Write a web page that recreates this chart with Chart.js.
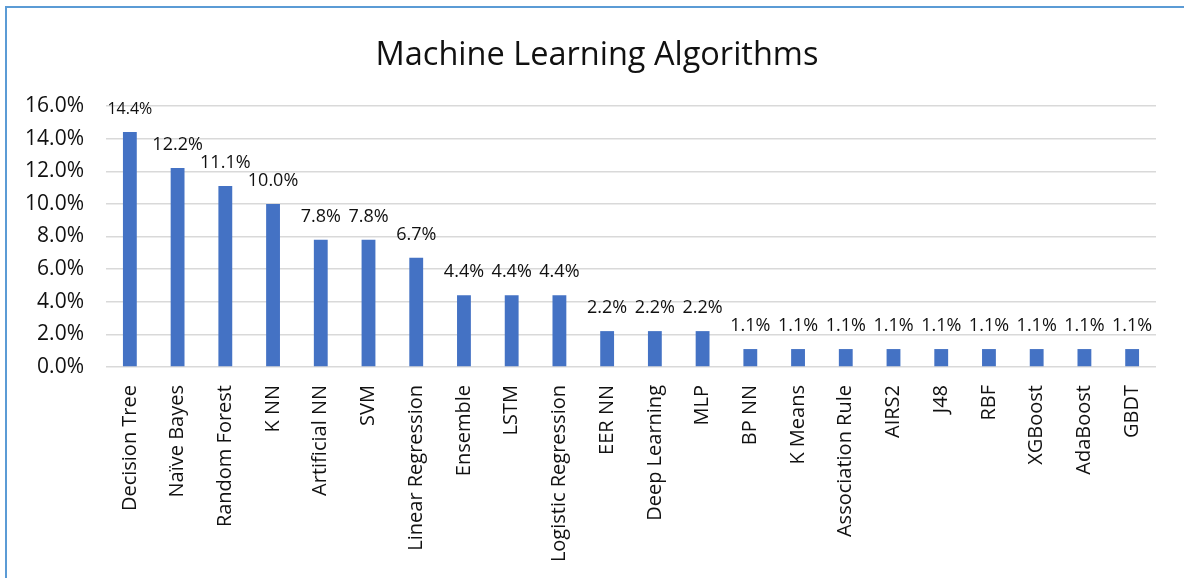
<!DOCTYPE html>
<html>
<head>
<meta charset="utf-8">
<script src="https://cdn.jsdelivr.net/npm/chart.js@4"></script>
<style>
    body { margin: 0; background: #fff; overflow: hidden; }
    #grafica { position: absolute; left: 0; top: 0; }
    #marco { position: absolute; left: 5px; top: 6px; width: 1200px; height: 600px; border: 2px solid #5B9BD5; pointer-events: none; }
</style>
</head>
<body>
<canvas id="grafica" width="1184" height="578"></canvas>
<div id="marco"></div>
<script>
const titulo = 'Machine Learning Algorithms';
const algoritmos = ['Decision Tree', 'Naïve Bayes', 'Random Forest', 'K NN', 'Artificial NN', 'SVM',
    'Linear Regression', 'Ensemble', 'LSTM', 'Logistic Regression', 'EER NN', 'Deep Learning', 'MLP',
    'BP NN', 'K Means', 'Association Rule', 'AIRS2', 'J48', 'RBF', 'XGBoost', 'AdaBoost', 'GBDT'];
const porcentajes = [14.4, 12.2, 11.1, 10.0, 7.8, 7.8, 6.7, 4.4, 4.4, 4.4, 2.2, 2.2, 2.2,
    1.1, 1.1, 1.1, 1.1, 1.1, 1.1, 1.1, 1.1, 1.1];
const ticksY = [0, 2, 4, 6, 8, 10, 12, 14, 16];

const fuente = "'Open Sans', 'Noto Sans', sans-serif";

// titulo centrado en el marco (no en el area del grafico)
const tituloMarco = {
    id: 'tituloMarco',
    afterDraw(chart) {
        const ctx = chart.ctx;
        ctx.save();
        ctx.fillStyle = '#111';
        ctx.font = '32.5px ' + fuente;
        ctx.textAlign = 'center';
        ctx.textBaseline = 'middle';
        ctx.fillText(titulo, 597, 56);
        ctx.restore();
    }
};

// etiquetas encima de cada barra
const etiquetasBarras = {
    id: 'etiquetasBarras',
    afterDatasetsDraw(chart) {
        const ctx = chart.ctx;
        const meta = chart.getDatasetMeta(0);
        ctx.save();
        ctx.fillStyle = '#111';
        ctx.textAlign = 'center';
        ctx.textBaseline = 'middle';
        meta.data.forEach((bar, i) => {
            const size = i === 0 ? 16 : 18;
            ctx.font = size + 'px ' + fuente;
            ctx.fillText(porcentajes[i].toFixed(1) + '%', bar.x, bar.y - 23);
        });
        ctx.restore();
    }
};

const ctx = document.getElementById('grafica').getContext('2d');
new Chart(ctx, {
    type: 'bar',
    data: {
        labels: algoritmos,
        datasets: [{
            data: porcentajes,
            backgroundColor: '#4472C4',
            barPercentage: 0.29,
            categoryPercentage: 1
        }]
    },
    options: {
        responsive: false,
        animation: false,
        layout: { padding: { left: 0, right: 28, top: 106, bottom: 0 } },
        plugins: {
            legend: { display: false },
            tooltip: { enabled: false },
            title: { display: false }
        },
        scales: {
            x: {
                grid: { display: false },
                border: { display: false },
                ticks: {
                    color: '#111',
                    font: { family: fuente, size: 20 },
                    minRotation: 90,
                    maxRotation: 90,
                    autoSkip: false,
                    padding: 10
                },
                afterFit(scale) { scale.height = 211; }
            },
            y: {
                min: 0,
                max: 16,
                afterBuildTicks(scale) { scale.ticks = ticksY.map(v => ({ value: v })); },
                grid: { color: '#D9D9D9', lineWidth: 1.5, drawTicks: false },
                border: { display: false },
                ticks: {
                    color: '#111',
                    font: { family: fuente, size: 21 },
                    padding: 22,
                    callback: v => v.toFixed(1) + '%'
                },
                afterFit(scale) { scale.width = 106; }
            }
        }
    },
    plugins: [etiquetasBarras, tituloMarco]
});
</script>
</body>
</html>
